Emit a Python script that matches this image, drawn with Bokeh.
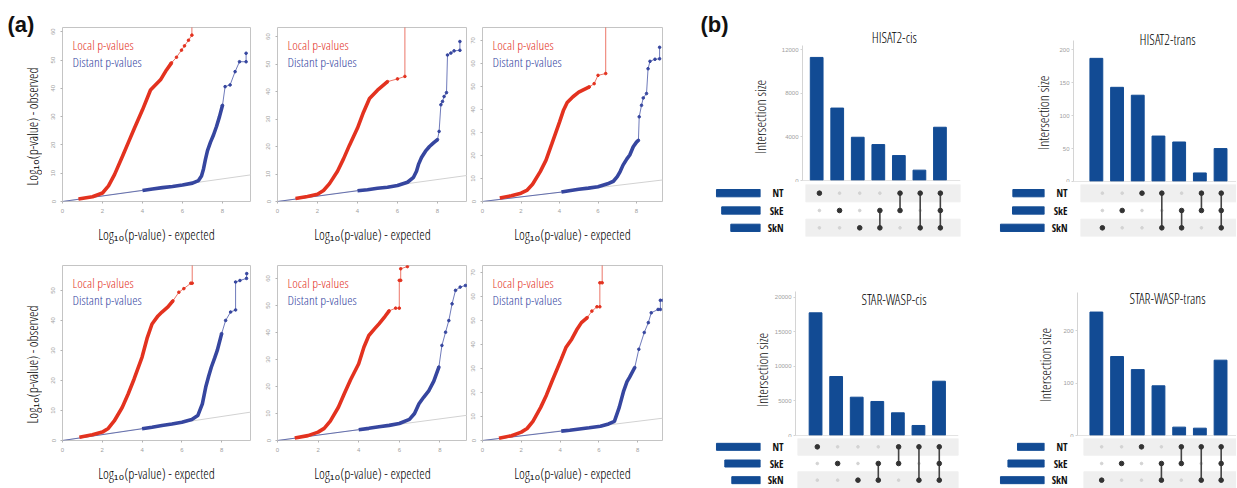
import math
from bokeh.plotting import figure
from bokeh.layouts import row, column
from bokeh.models import Range1d, FactorRange, FixedTicker, Label, Slope, Span
from bokeh.embed import file_html
from bokeh.resources import INLINE

FONT = "Open Sans Condensed Light, Liberation Sans"
BOLD_FONT = "Liberation Sans"
TICK_FONT = "Liberation Sans"
SET_FONT = "Open Sans Condensed, Liberation Sans"
RED = "#e3321f"
BLUE = "#36469f"
BAR_BLUE = "#124b94"

# ---------------- (a) QQ plots: read-off points ----------------
X_TICKS = [0, 2, 4, 6, 8]
X_LABEL = "Log\u2081\u2080(p-value) - expected"
Y_LABEL = "Log\u2081\u2080(p-value) - observed"
LOCAL_TEXT = "Local p-values"
DISTANT_TEXT = "Distant p-values"

P1_LOC_X = [0.8, 1.5, 2.0, 2.3, 2.6, 3.0, 3.3, 3.6, 4.0, 4.4, 4.9, 5.2, 5.45, 5.7, 5.95, 6.1, 6.3, 6.47, 6.47]
P1_LOC_Y = [0.9, 1.7, 3.0, 5.5, 9.5, 16.0, 21.0, 26.0, 32.4, 39.4, 43.0, 46.5, 49.0, 51.0, 53.5, 55.0, 57.0, 58.8, 75.0]
P1_DIS_X = [0.0, 4.0, 4.5, 5.0, 5.5, 6.0, 6.5, 6.8, 6.95, 7.05, 7.15, 7.25, 7.4, 7.55, 7.7, 7.85, 8.0, 8.13, 8.38, 8.63, 8.85, 9.18, 9.18]
P1_DIS_Y = [0.0, 3.9, 4.4, 4.9, 5.3, 5.8, 6.5, 7.4, 9.0, 11.5, 15.0, 18.0, 21.0, 23.5, 26.5, 30.0, 34.0, 40.6, 41.2, 45.9, 49.4, 49.4, 52.4]

P2_LOC_X = [0.9, 1.5, 2.0, 2.3, 2.6, 3.0, 3.3, 3.6, 4.0, 4.3, 4.6, 5.0, 5.5, 6.0, 6.37, 6.37]
P2_LOC_Y = [1.1, 1.8, 2.6, 4.0, 6.5, 11.0, 15.5, 20.5, 26.7, 32.5, 37.5, 40.5, 43.6, 44.6, 45.5, 75.0]
P2_DIS_X = [0.0, 4.0, 4.5, 5.0, 5.5, 6.0, 6.5, 6.8, 6.95, 7.05, 7.2, 7.4, 7.6, 7.8, 8.0, 8.08, 8.17, 8.25, 8.33, 8.45, 8.5, 8.67, 8.83, 9.12, 9.12]
P2_DIS_Y = [0.0, 3.9, 4.3, 4.8, 5.2, 5.8, 7.0, 8.8, 11.0, 13.5, 16.0, 18.3, 20.0, 21.3, 22.5, 25.5, 35.2, 36.4, 38.2, 39.6, 53.3, 54.0, 54.8, 55.0, 58.2]

P3_LOC_X = [0.9, 1.5, 2.0, 2.3, 2.6, 3.0, 3.3, 3.6, 4.0, 4.2, 4.4, 4.7, 5.0, 5.55, 5.8, 6.0, 6.4, 6.4]
P3_LOC_Y = [1.5, 2.5, 3.6, 4.8, 7.5, 13.0, 18.0, 25.0, 34.5, 39.5, 43.0, 45.5, 47.5, 49.8, 51.2, 54.8, 55.6, 85.0]
P3_DIS_X = [0.0, 4.1, 4.5, 5.0, 5.5, 6.0, 6.5, 6.8, 7.0, 7.15, 7.3, 7.5, 7.65, 7.83, 8.0, 8.1, 8.14, 8.26, 8.35, 8.52, 8.6, 8.7, 8.96, 9.2, 9.2]
P3_DIS_Y = [0.0, 4.1, 4.7, 5.3, 5.8, 6.4, 7.7, 8.8, 10.8, 13.0, 15.8, 18.5, 20.2, 23.8, 25.8, 26.6, 36.8, 41.8, 45.0, 46.9, 57.7, 60.9, 61.8, 62.0, 67.0]

P4_LOC_X = [0.85, 1.5, 2.0, 2.3, 2.6, 3.0, 3.3, 3.6, 4.0, 4.25, 4.5, 4.8, 5.0, 5.3, 5.55, 5.85, 6.1, 6.45, 6.52, 6.52]
P4_LOC_Y = [1.1, 1.9, 2.8, 4.0, 6.5, 11.0, 15.5, 20.5, 27.8, 34.0, 38.8, 41.5, 42.8, 44.5, 46.5, 49.4, 50.6, 52.4, 52.4, 80.0]
P4_DIS_X = [0.0, 4.0, 4.5, 5.0, 5.5, 6.0, 6.5, 6.8, 7.03, 7.2, 7.35, 7.48, 7.65, 7.78, 8.0, 8.2, 8.45, 8.7, 8.7, 8.92, 9.25, 9.26]
P4_DIS_Y = [0.0, 3.9, 4.4, 5.0, 5.5, 6.1, 7.0, 8.3, 12.2, 17.8, 21.5, 24.4, 27.5, 30.0, 35.6, 40.0, 42.8, 43.5, 52.8, 53.3, 54.0, 55.6]

P5_LOC_X = [0.85, 1.5, 2.0, 2.3, 2.6, 3.0, 3.3, 3.6, 4.0, 4.26, 4.5, 4.8, 5.0, 5.3, 5.5, 5.82, 6.0, 6.0, 6.07, 6.07, 6.4, 6.4]
P5_LOC_Y = [0.9, 1.8, 3.1, 4.5, 7.2, 12.3, 17.5, 22.5, 28.4, 34.6, 38.9, 41.5, 43.2, 46.0, 48.0, 49.0, 49.0, 59.3, 59.3, 63.6, 64.4, 80.0]
P5_DIS_X = [0.0, 4.0, 4.5, 5.0, 5.5, 6.0, 6.5, 6.75, 6.97, 7.2, 7.46, 7.7, 7.95, 8.1, 8.28, 8.44, 8.6, 8.77, 9.0, 9.26]
P5_DIS_Y = [0.0, 4.0, 4.5, 5.1, 5.6, 6.3, 7.8, 10.0, 13.6, 16.0, 18.5, 22.0, 27.2, 35.2, 40.1, 44.4, 50.6, 55.6, 56.8, 57.4]

P6_LOC_X = [0.85, 1.5, 2.0, 2.3, 2.6, 3.0, 3.3, 3.6, 4.06, 4.3, 4.6, 4.85, 5.1, 5.4, 5.64, 5.9, 6.05, 6.05, 6.17, 6.17]
P6_LOC_Y = [0.9, 2.0, 3.5, 5.0, 8.0, 13.8, 19.0, 25.0, 33.9, 38.7, 42.2, 46.0, 49.1, 51.2, 53.9, 55.7, 55.7, 65.7, 65.7, 90.0]
P6_DIS_X = [0.0, 4.06, 4.5, 5.0, 5.5, 6.08, 6.5, 6.8, 7.05, 7.28, 7.45, 7.58, 7.85, 8.06, 8.34, 8.55, 8.7, 9.05, 9.17, 9.17, 9.3]
P6_DIS_Y = [0.0, 3.9, 4.3, 4.8, 5.3, 5.9, 6.9, 8.0, 13.8, 20.7, 24.5, 26.3, 30.4, 38.0, 45.0, 49.1, 53.2, 54.6, 54.6, 58.4, 58.4]

# ---------------- (b) UpSet data ----------------
SETS = ["NT", "SkE", "SkN"]  # top to bottom
Y_UP_LABEL = "Intersection size"

HC_TITLE = "HISAT2-cis"
HC_VALUES = [11300, 6650, 3970, 3300, 2290, 950, 4890]
HC_MEMBERS = [["NT"], ["SkE"], ["SkN"], ["SkE", "SkN"], ["NT", "SkE"], ["NT", "SkN"], ["NT", "SkE", "SkN"]]
HC_TICKS = [0, 4000, 8000, 12000]

HT_TITLE = "HISAT2-trans"
HT_VALUES = [187, 143, 131, 69, 60, 13, 50]
HT_MEMBERS = [["SkN"], ["SkE"], ["NT"], ["NT", "SkN"], ["SkE", "SkN"], ["NT", "SkE"], ["NT", "SkE", "SkN"]]
HT_TICKS = [0, 50, 100, 150, 200]

SC_TITLE = "STAR-WASP-cis"
SC_VALUES = [17740, 8530, 5540, 4920, 3280, 1450, 7850]
SC_MEMBERS = [["NT"], ["SkE"], ["SkN"], ["SkE", "SkN"], ["NT", "SkE"], ["NT", "SkN"], ["NT", "SkE", "SkN"]]
SC_TICKS = [0, 5000, 10000, 15000, 20000]

ST_TITLE = "STAR-WASP-trans"
ST_VALUES = [236, 151, 126, 95, 16, 14, 144]
ST_MEMBERS = [["SkN"], ["SkE"], ["NT"], ["SkE", "SkN"], ["NT", "SkE"], ["NT", "SkN"], ["NT", "SkE", "SkN"]]
ST_TICKS = [0, 100, 200]


def dx(rng, frame_w, px):
    return rng.start + (rng.end - rng.start) * px / frame_w


def dy(rng, frame_h, px_from_top):
    return rng.end - (rng.end - rng.start) * px_from_top / frame_h


def base_fig(w, h, bl, br, bt, bb, xr, yr):
    p = figure(width=w, height=h, x_range=xr, y_range=yr,
               output_backend="svg", toolbar_location=None,
               min_border_left=bl, min_border_right=br,
               min_border_top=bt, min_border_bottom=bb)
    p.grid.visible = False
    p.background_fill_color = "white"
    p.border_fill_color = "white"
    return p


def strip(w, h, labels):
    """Frame-only figure holding free text (panel letters, rotated axis titles)."""
    s = base_fig(w, h, 0, 0, 0, 0, Range1d(0, w), Range1d(0, h))
    s.outline_line_color = None
    s.axis.visible = False
    for (txt, font, x, top, size, style, angle, color, align) in labels:
        s.add_layout(Label(x=x, y=h - top, text=txt, text_font=font,
                           text_font_size=size, text_font_style=style,
                           angle=angle, text_color=color, text_align=align,
                           text_baseline="middle"))
    return s


def qq_fig(loc_x, loc_y, loc_split, dis_x, dis_y, dis_lo, dis_hi,
           xmax, ymax, ytop, geo):
    w, bl, fw, br, h, bt, fh, bb = geo
    p = base_fig(w, h, bl, br, bt, bb, Range1d(0, xmax), Range1d(0, ymax))
    p.outline_line_color = "#c4c4c4"
    p.outline_line_width = 1
    p.add_layout(Slope(gradient=1, y_intercept=0, line_color="#d2d2d2",
                       line_width=1, level="underlay"))
    # distant p-values
    p.line(dis_x, dis_y, line_color=BLUE, line_width=0.9, line_alpha=0.8)
    p.line(dis_x[dis_lo:dis_hi + 1], dis_y[dis_lo:dis_hi + 1],
           line_color=BLUE, line_width=3.6)
    p.scatter(dis_x[dis_hi:], dis_y[dis_hi:], size=2.6, color=BLUE)
    # local p-values
    p.line(loc_x, loc_y, line_color=RED, line_width=0.9, line_alpha=0.75)
    p.line(loc_x[:loc_split + 1], loc_y[:loc_split + 1],
           line_color=RED, line_width=3.6)
    p.scatter(loc_x[loc_split:-1], loc_y[loc_split:-1], size=2.6, color=RED)

    for ax in (p.xaxis[0], p.yaxis[0]):
        ax.axis_line_color = None
        ax.major_tick_line_color = "#b4b4b4"
        ax.major_tick_out = 2
        ax.major_tick_in = 0
        ax.minor_tick_line_color = None
        ax.major_label_text_font = TICK_FONT
        ax.major_label_text_font_size = "6px"
        ax.major_label_text_color = "#a0a0a0"
        ax.major_label_standoff = 5
    p.xaxis.ticker = FixedTicker(ticks=X_TICKS)
    p.yaxis.ticker = FixedTicker(ticks=list(range(0, ytop + 1, 10)))
    p.yaxis.major_label_orientation = "vertical"
    xa = p.xaxis[0]
    xa.axis_label = X_LABEL
    xa.axis_label_standoff = 9
    xa.axis_label_text_font = FONT
    xa.axis_label_text_font_size = "14px"
    xa.axis_label_text_font_style = "normal"
    xa.axis_label_text_color = "#000000"

    p.add_layout(Label(x=dx(p.x_range, fw, 10), y=dy(p.y_range, fh, 17),
                       text=LOCAL_TEXT, text_font=FONT, text_font_size="13.5px",
                       text_color=RED, text_baseline="middle"))
    p.add_layout(Label(x=dx(p.x_range, fw, 10), y=dy(p.y_range, fh, 34),
                       text=DISTANT_TEXT, text_font=FONT, text_font_size="13.5px",
                       text_color=BLUE, text_baseline="middle"))
    return p


TOP_H = (248, 27, 174, 47)
BOT_H = (240, 17, 175, 48)
COL_W = [(220, 20, 188, 12), (205, 15, 190, 0), (211, 15, 180, 16)]

qq_specs = [
    (P1_LOC_X, P1_LOC_Y, 12, P1_DIS_X, P1_DIS_Y, 1, 16, 9.4, 61.5, 60),
    (P2_LOC_X, P2_LOC_Y, 12, P2_DIS_X, P2_DIS_Y, 1, 14, 9.5, 63.3, 60),
    (P3_LOC_X, P3_LOC_Y, 13, P3_DIS_X, P3_DIS_Y, 1, 15, 9.35, 75.6, 70),
    (P4_LOC_X, P4_LOC_Y, 14, P4_DIS_X, P4_DIS_Y, 1, 14, 9.45, 58.3, 50),
    (P5_LOC_X, P5_LOC_Y, 14, P5_DIS_X, P5_DIS_Y, 1, 12, 9.36, 64.8, 60),
    (P6_LOC_X, P6_LOC_Y, 13, P6_DIS_X, P6_DIS_Y, 1, 12, 9.28, 72.9, 70),
]

qq_figs = []
for i, spec in enumerate(qq_specs):
    hgeo = TOP_H if i < 3 else BOT_H
    geo = COL_W[i % 3] + hgeo
    qq_figs.append(qq_fig(*spec, geo=geo))

strip_a = strip(42, 488, [
    ("(a)", BOLD_FONT, 7, 24, "22px", "bold", 0, "#111111", "left"),
    (Y_LABEL, FONT, 32, 126, "14px", "normal", math.pi / 2, "#000000", "center"),
    (Y_LABEL, FONT, 32, 364, "14px", "normal", math.pi / 2, "#000000", "center"),
])

left_block = row(strip_a, column(row(*qq_figs[:3]), row(*qq_figs[3:])))


def upset(title, values, members, ticks, y_end, y_bound, xr, bar_geo, set_geo,
          mat_geo, mat_h, title_off, strip_labels, setlab_standoff):
    sw_, bw, bbl, bfw, bbr, bh, bbt, bfh, bbb = bar_geo
    cols = list(range(1, len(values) + 1))
    p = base_fig(bw, bh, bbl, bbr, bbt, bbb, Range1d(*xr), Range1d(0, y_end))
    p.outline_line_color = None
    p.vbar(x=cols, top=values, width=0.62, color=BAR_BLUE)
    p.xaxis.visible = False
    p.add_layout(Span(location=0, dimension="width", line_color="#c8c8c8",
                      line_width=1))
    ax = p.yaxis[0]
    ax.ticker = FixedTicker(ticks=ticks)
    ax.bounds = (0, y_bound)
    ax.axis_line_color = "#d4d4d4"
    ax.major_tick_line_color = "#d4d4d4"
    ax.major_tick_out = 2
    ax.major_tick_in = 0
    ax.minor_tick_line_color = None
    ax.major_label_text_font = TICK_FONT
    ax.major_label_text_font_size = "6px"
    ax.major_label_text_color = "#a0a0a0"
    ax.major_label_standoff = 2
    p.add_layout(Label(x=dx(p.x_range, bfw, title_off[0]),
                       y=dy(p.y_range, bfh, title_off[1]),
                       text=title, text_font=FONT, text_font_size="14px",
                       text_color="#000000", text_align="center",
                       text_baseline="middle"))
    st = strip(sw_, bh, strip_labels)

    mh, mbt, mfh, mbb = mat_h
    yr = FactorRange(factors=list(reversed(SETS)))
    mw, mbl, mbr = mat_geo
    m = base_fig(mw, mh, mbl, mbr, mbt, mbb, p.x_range, yr)
    m.outline_line_color = None
    shaded = [s for k, s in enumerate(SETS) if k % 2 == 0]
    m.hbar(y=shaded, left=xr[0], right=xr[1], height=1.0, color="#efefef")
    gx = [c for c in cols for s in SETS]
    gy = [s for c in cols for s in SETS]
    m.scatter(gx, gy, size=2.6, color="#d3d3d3")
    seg_x, seg_top, seg_bot = [], [], []
    ax_, ay_ = [], []
    for c, mem in zip(cols, members):
        order = [s for s in SETS if s in mem]
        for s in order:
            ax_.append(c)
            ay_.append(s)
        if len(order) > 1:
            seg_x.append(c)
            seg_top.append(order[0])
            seg_bot.append(order[-1])
    m.segment(x0=seg_x, y0=seg_top, x1=seg_x, y1=seg_bot,
              line_color="#444444", line_width=1.6)
    m.scatter(ax_, ay_, size=4.6, color="#333333")
    m.xaxis.visible = False
    my = m.yaxis[0]
    my.axis_line_color = None
    my.major_tick_line_color = None
    my.minor_tick_line_color = None
    my.major_label_text_font = SET_FONT
    my.major_label_text_font_style = "bold"
    my.major_label_text_font_size = "10.5px"
    my.major_label_text_color = "#111111"
    my.major_label_standoff = setlab_standoff

    sizes = [sum(v for v, mem in zip(values, members) if s in mem) for s in SETS]
    sw, sbl, sbr = set_geo
    s_fig = base_fig(sw, mh, sbl, sbr, mbt, mbb,
                     Range1d(max(sizes) * 1.045, 0), yr)
    s_fig.outline_line_color = None
    s_fig.hbar(y=SETS, left=0, right=sizes, height=0.42, color=BAR_BLUE)
    s_fig.axis.visible = False
    return column(row(st, p), row(s_fig, m))


TOP_MAT_H = (66, 2, 52, 12)
BOT_MAT_H = (51, 1, 50, 0)
UP_LAB = "14.5px"

hc = upset(HC_TITLE, HC_VALUES, HC_MEMBERS, HC_TICKS, 16343, 12400, (0.31, 8.0),
           (100, 205, 22, 160, 23, 182, 2, 178, 2), (86, 36, 4), (219, 36, 23),
           TOP_MAT_H, (93, 35),
           [("(b)", BOLD_FONT, 22, 22, "22px", "bold", 0, "#111111", "left"),
            (Y_UP_LABEL, FONT, 82, 117, UP_LAB, "normal", math.pi / 2, "#111111", "center")],
           16)
ht = upset(HT_TITLE, HT_VALUES, HT_MEMBERS, HT_TICKS, 271.8, 214, (-0.104, 7.77),
           (73, 180, 16, 164, 0, 182, 2, 179, 1), (65, 15, 4), (188, 24, 0),
           TOP_MAT_H, (94.7, 37),
           [(Y_UP_LABEL, FONT, 60, 112, UP_LAB, "normal", math.pi / 2, "#111111", "center")],
           7)
sc = upset(SC_TITLE, SC_VALUES, SC_MEMBERS, SC_TICKS, 26753, 20870, (0.025, 7.946),
           (93, 212, 22, 165, 25, 189, 2, 185, 2), (86, 36, 4), (219, 29, 25),
           BOT_MAT_H, (99.7, 49.3),
           [(Y_UP_LABEL, FONT, 83.7, 370 - 248, UP_LAB, "normal", math.pi / 2, "#111111", "center")],
           8)
st = upset(ST_TITLE, ST_VALUES, ST_MEMBERS, ST_TICKS, 353.7, 274, (0.088, 7.77),
           (77, 176, 16, 160, 0, 189, 2, 185, 2), (65, 15, 4), (188, 28, 0),
           BOT_MAT_H, (90.7, 47.7),
           [(Y_UP_LABEL, FONT, 62, 365 - 248, UP_LAB, "normal", math.pi / 2, "#111111", "center")],
           10)

right_block = column(row(hc, ht), row(sc, st))
layout = row(left_block, right_block)

open("out.html", "w").write(file_html(layout, INLINE))
